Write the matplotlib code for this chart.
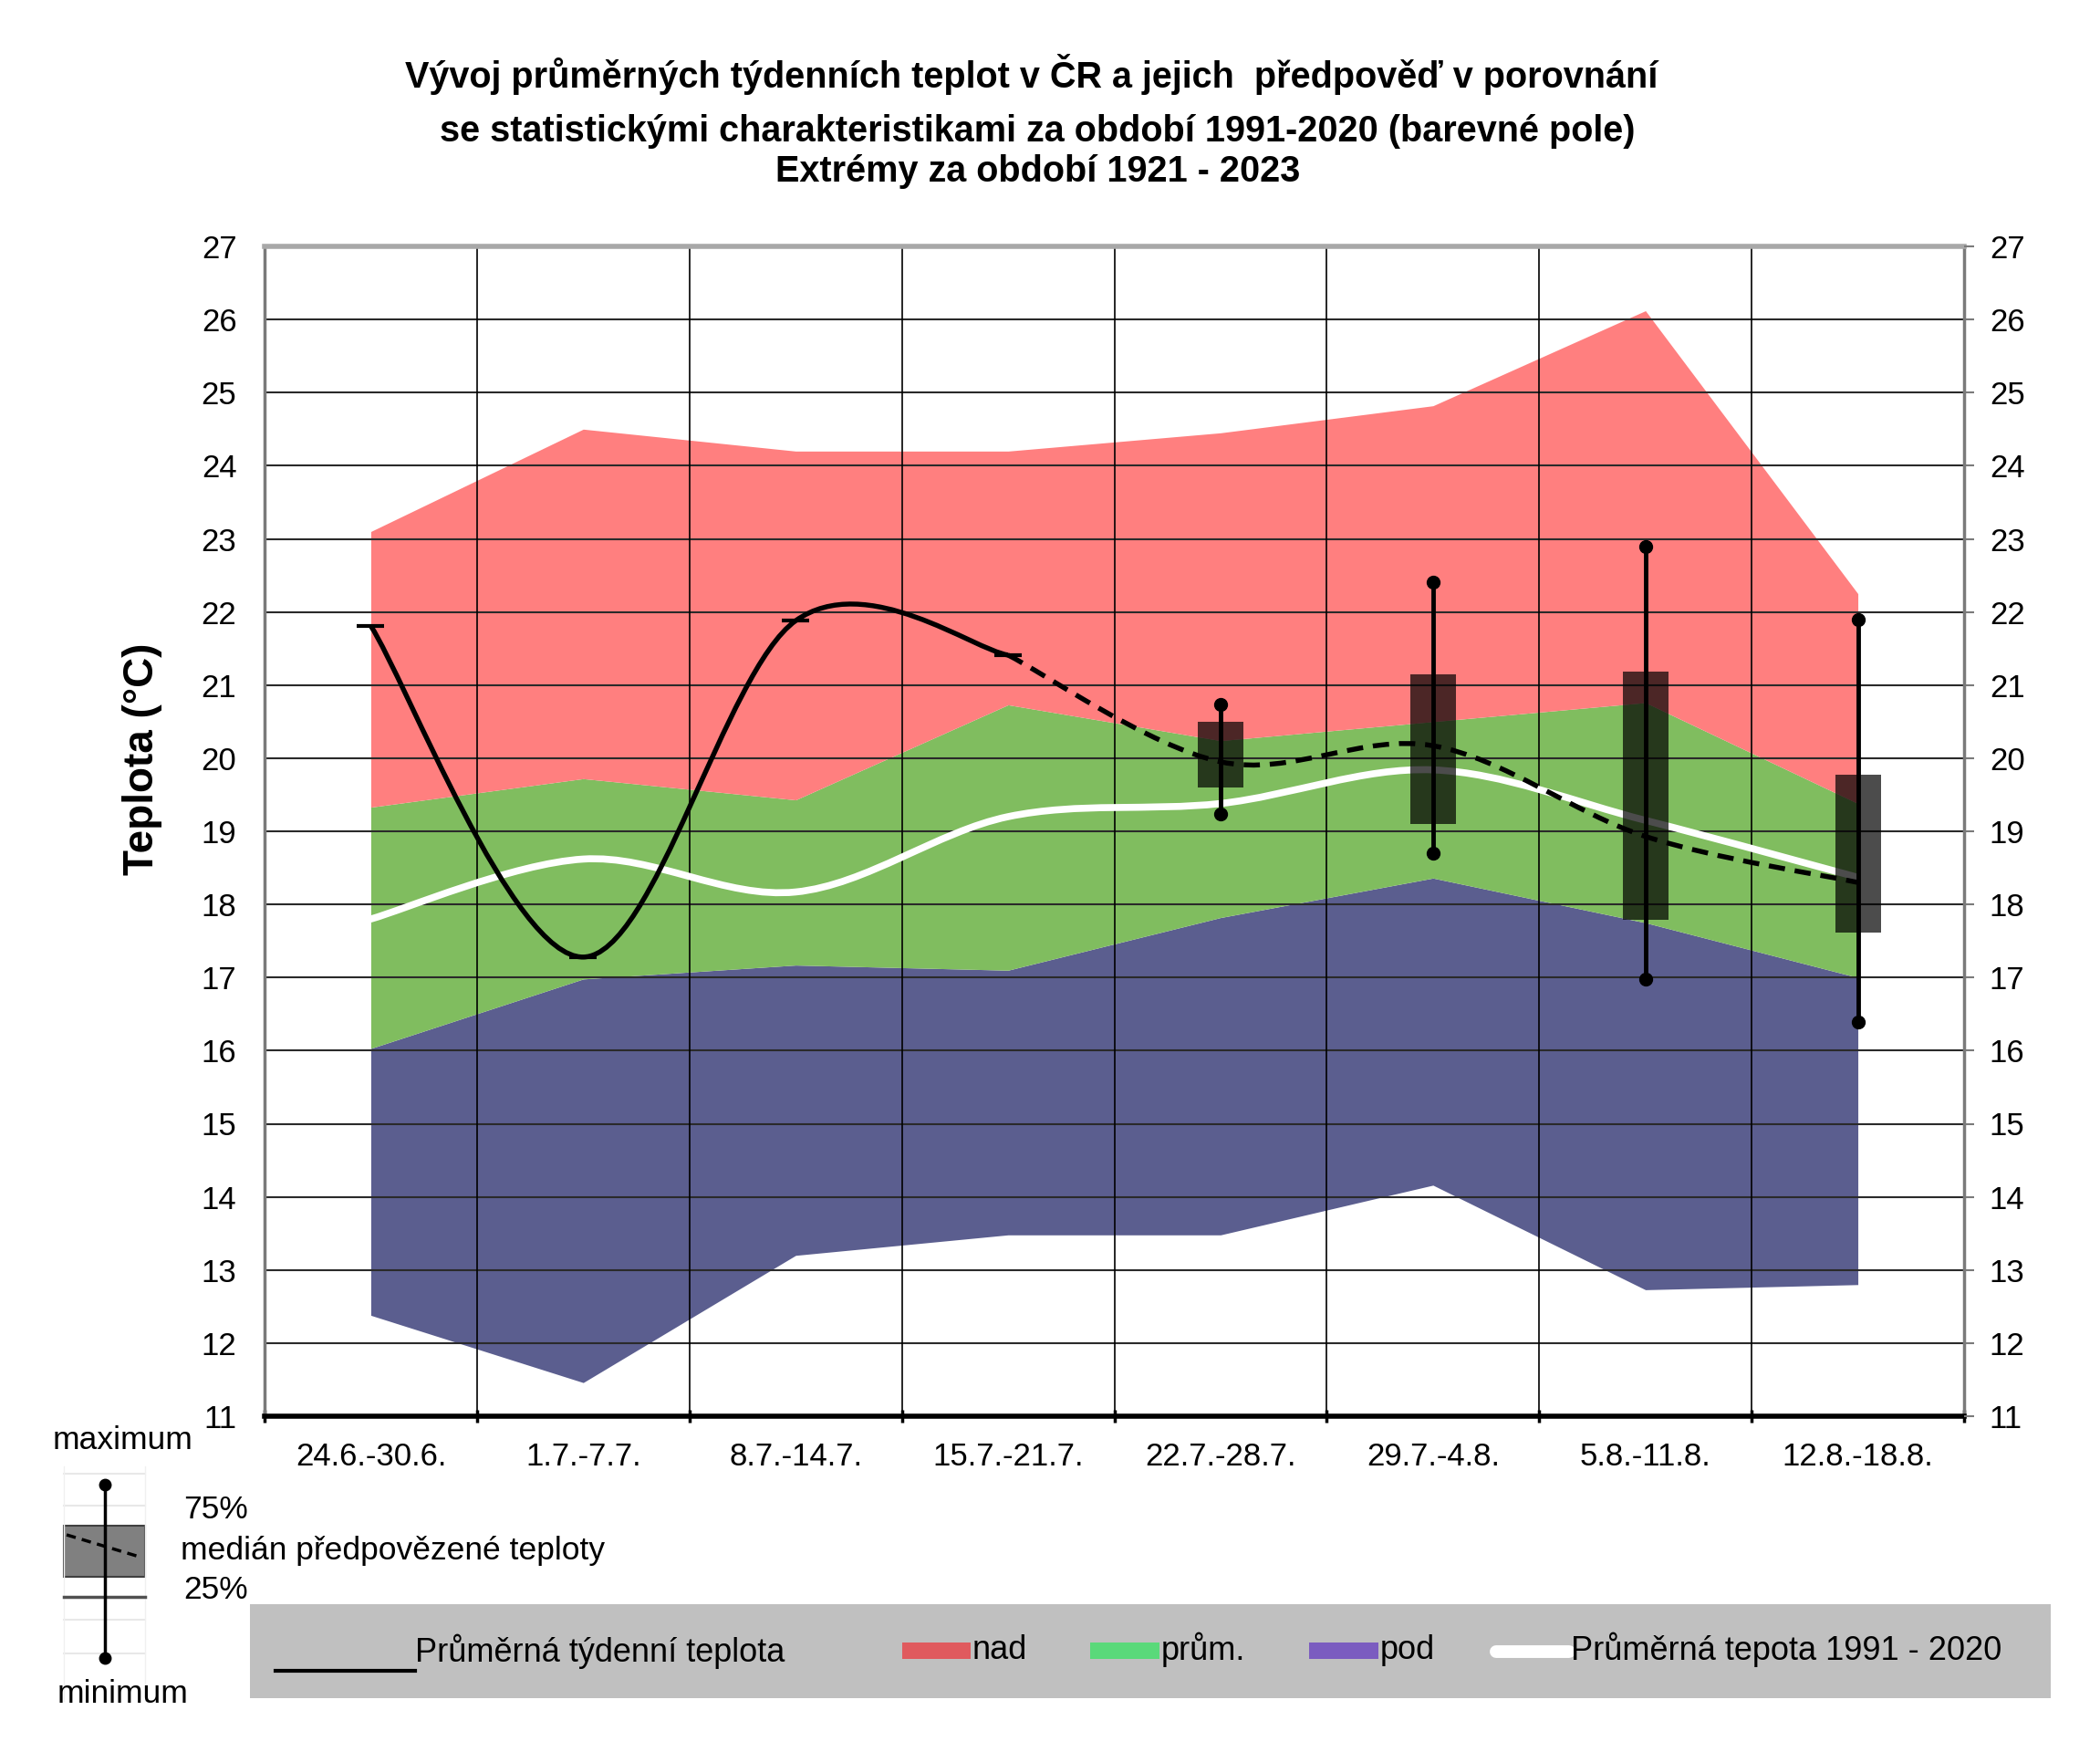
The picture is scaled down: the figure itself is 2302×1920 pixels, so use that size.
import numpy as np
import matplotlib.pyplot as plt
from matplotlib.path import Path
from matplotlib.patches import PathPatch, Rectangle

plt.rcParams['font.family'] = ['Liberation Sans', 'DejaVu Sans']

# data
weeks = ['24.6.-30.6.', '1.7.-7.7.', '8.7.-14.7.', '15.7.-21.7.',
         '22.7.-28.7.', '29.7.-4.8.', '5.8.-11.8.', '12.8.-18.8.']
ext_max = [23.1, 24.5, 24.2, 24.2, 24.45, 24.82, 26.12, 22.25]
upper = [19.33, 19.72, 19.43, 20.73, 20.24, 20.5, 20.76, 19.38]
lower = [16.03, 16.98, 17.17, 17.1, 17.82, 18.36, 17.75, 17.0]
ext_min = [12.38, 11.46, 13.2, 13.48, 13.48, 14.16, 12.73, 12.8]
normal = [17.8, 18.62, 18.17, 19.2, 19.38, 19.84, 19.15, 18.37]

observed = [21.81, 17.28, 21.88, 21.41]          # weeks 0-3
fc_median = [21.41, 19.95, 20.17, 18.93, 18.3]    # weeks 3-7
fc_q25 = [19.6, 19.1, 17.79, 17.62]               # weeks 4-7
fc_q75 = [20.5, 21.15, 21.18, 19.77]
fc_min = [19.24, 18.7, 16.98, 16.39]
fc_max = [20.73, 22.41, 22.9, 21.9]

W, H = 2302, 1920
fig = plt.figure(figsize=(W / 100, H / 100), dpi=100)
ax = fig.add_axes([290 / W, 1 - 1552 / H, (2153 - 290) / W, (1552 - 270) / H])

x = np.arange(len(weeks))
ax.fill_between(x, lower, ext_min, color='#5b5e8f', lw=0, zorder=1)
ax.fill_between(x, upper, lower, color='#80bd5f', lw=0, zorder=1)
ax.fill_between(x, ext_max, upper, color='#ff7f7f', lw=0, zorder=1)


def smooth(xs, ys):
    # excel like smoothed line, drawn as bezier curves
    verts = [(xs[0], ys[0])]
    codes = [Path.MOVETO]
    n = len(xs)
    for i in range(n - 1):
        a = max(i - 1, 0)
        b = min(i + 2, n - 1)
        c1 = (xs[i] + (xs[i + 1] - xs[a]) / 6, ys[i] + (ys[i + 1] - ys[a]) / 6)
        c2 = (xs[i + 1] - (xs[b] - xs[i]) / 6, ys[i + 1] - (ys[b] - ys[i]) / 6)
        verts += [c1, c2, (xs[i + 1], ys[i + 1])]
        codes += [Path.CURVE4] * 3
    return Path(verts, codes)


ax.set_xlim(-0.5, 7.5)
ax.set_ylim(11, 27)
ax.set_yticks(range(11, 28))
ax.set_xticks(np.arange(-0.5, 8, 1))
ax.set_xticklabels([])
ax.set_xticks(x, minor=True)
ax.set_xticklabels(weeks, minor=True, fontsize=25)
for v in range(12, 27):
    ax.axhline(v, color='#2a2a2a', lw=1.5, zorder=2)
for v in np.arange(0.5, 7, 1):
    ax.axvline(v, color='black', lw=1.2, zorder=2)

ax.add_patch(PathPatch(smooth(x, normal), fill=False, ec='white', lw=5.5,
                       capstyle='round', zorder=3))
ax.add_patch(PathPatch(smooth(x[:4], observed), fill=False, ec='black', lw=3.9,
                       zorder=4))
ax.add_patch(PathPatch(smooth(x[3:], fc_median), fill=False, ec='black', lw=3.9,
                       ls=(0, (3.3, 2)), zorder=4))
ax.plot(x[:4], observed, ls='none', marker='_', ms=22, mew=3, color='black',
        zorder=5)

xf = x[4:]
ax.bar(xf, np.array(fc_q75) - np.array(fc_q25), bottom=fc_q25, width=0.215,
       color='black', alpha=0.7, lw=0, zorder=5)
ax.vlines(xf, fc_min, fc_max, color='black', lw=3.5, zorder=6)
ax.plot(xf, fc_min, 'o', color='black', ms=10, zorder=6)
ax.plot(xf, fc_max, 'o', color='black', ms=10, zorder=6)

ax.tick_params(axis='y', length=0, pad=22, labelsize=25)
ax.tick_params(axis='x', which='major', direction='inout', length=10, width=2.5,
               color='black')
ax.tick_params(axis='x', which='minor', length=0, pad=20)
ax.spines['top'].set_color('#a8a8a8')
ax.spines['top'].set_linewidth(4)
ax.spines['left'].set_color('#7a7a7a')
ax.spines['left'].set_linewidth(2.5)
ax.spines['right'].set_color('#7a7a7a')
ax.spines['right'].set_linewidth(2.5)
ax.spines['bottom'].set_color('black')
ax.spines['bottom'].set_linewidth(4)
ax.set_ylabel('Teplota (°C)', fontsize=33, fontweight='bold')
ax.yaxis.set_label_coords(-0.06, 0.5616)

ax2 = ax.twinx()
ax2.set_ylim(11, 27)
ax2.set_yticks(range(11, 28))
ax2.tick_params(axis='y', length=8, width=1.5, color='#7a7a7a', pad=12,
                labelsize=25)
for s in ax2.spines.values():
    s.set_visible(False)

fig.text(0.5 * (445 + 1817) / W, 1 - 82 / H,
         'Vývoj průměrných týdenních teplot v ČR a jejich  předpověď v porovnání',
         ha='center', va='center', fontsize=28.5, fontweight='bold')
fig.text(0.5 * (480 + 1795) / W, 1 - 144 / H,
         'se statistickými charakteristikami za období 1991-2020 (barevné pole)',
         ha='center', va='center', fontsize=28.5, fontweight='bold')
fig.text(0.5 * (850 + 1425) / W, 1 - 188 / H, 'Extrémy za období 1921 - 2023',
         ha='center', va='center', fontsize=28.5, fontweight='bold')

# legend areas drawn in pixel coordinates
lg = fig.add_axes([0, 0, 1, 1], zorder=10)
lg.set_xlim(0, W)
lg.set_ylim(H, 0)
lg.axis('off')
lg.patch.set_alpha(0)

lg.add_patch(Rectangle((274, 1758), 1974, 103, color='#c0c0c0', lw=0))
lg.plot([302, 455], [1831, 1831], color='black', lw=3)
lg.text(455, 1810, 'Průměrná týdenní teplota', fontsize=26, va='center')
lg.add_patch(Rectangle((989, 1800), 75, 18, color='#e05a5e', lw=0))
lg.text(1066, 1808, 'nad', fontsize=26, va='center')
lg.add_patch(Rectangle((1195, 1800), 76, 18, color='#5ad97a', lw=0))
lg.text(1273, 1808, 'prům.', fontsize=26, va='center')
lg.add_patch(Rectangle((1435, 1800), 76, 18, color='#7b5cc0', lw=0))
lg.text(1513, 1808, 'pod', fontsize=26, va='center')
lg.plot([1640, 1720], [1810, 1810], color='white', lw=10, solid_capstyle='round')
lg.text(1722, 1808, 'Průměrná tepota 1991 - 2020', fontsize=26, va='center')

# box legend
for yy in [1615, 1650, 1775, 1812]:
    lg.plot([70, 159], [yy, yy], color='#e8e8e8', lw=1.5)
lg.plot([70, 70], [1607, 1864], color='#f0f0f0', lw=1)
lg.plot([159, 159], [1607, 1864], color='#f0f0f0', lw=1)
lg.add_patch(Rectangle((70, 1672), 89, 56, fc='#808080', ec='#404040', lw=1.5))
lg.plot([73, 156], [1682, 1707], color='black', lw=2.5, ls=(0, (3, 2)))
lg.plot([70, 159], [1750, 1750], color='#505050', lw=2.5)
lg.plot([115, 115], [1627, 1817], color='black', lw=2.5)
lg.plot([115, 115], [1627, 1817], 'o', color='black', ms=9)
lg.text(135, 1578, 'maximum', fontsize=25.5, ha='center', va='center')
lg.text(201, 1655, '75%', fontsize=25.5, va='center')
lg.text(198, 1700, 'medián předpovězené teploty', fontsize=25.5, va='center')
lg.text(201, 1742, '25%', fontsize=25.5, va='center')
lg.text(135, 1856, 'minimum', fontsize=25.5, ha='center', va='center')

fig.savefig('out.png', dpi=100)
